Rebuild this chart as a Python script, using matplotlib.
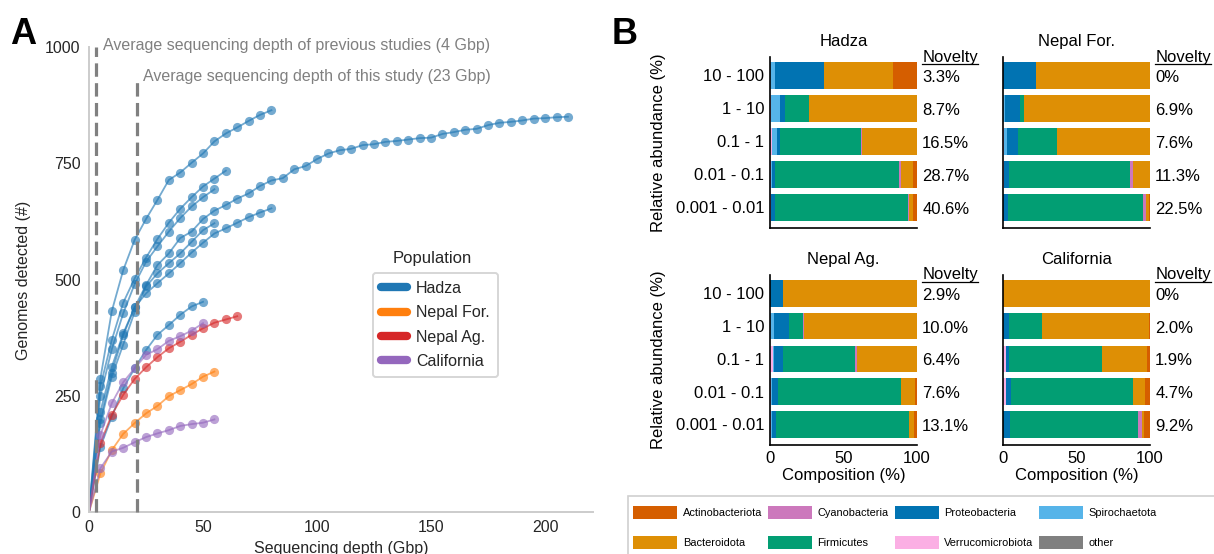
import matplotlib
matplotlib.use('Agg')
import matplotlib.pyplot as plt
from matplotlib.patches import Rectangle, Patch
from matplotlib.lines import Line2D

plt.rcParams['font.family'] = ['Liberation Sans', 'DejaVu Sans']

# ---------------- data: panel A (rarefaction curves) ----------------
DEPTH = [0, 5, 10, 15, 20, 25, 30, 35, 40, 45, 50, 55, 60, 65, 70, 75, 80, 85, 90,
         95, 100, 105, 110, 115, 120, 125, 130, 135, 140, 145, 150, 155, 160, 165,
         170, 175, 180, 185, 190, 195, 200, 205, 210]

hadza_1 = [0, 287, 432, 520, 585, 630, 671, 714, 730, 751, 771, 797, 814, 827, 841, 854, 864]
hadza_2 = [0, 270, 370, 450, 502, 547, 587, 622, 652, 677, 700, 717, 734]
hadza_3 = [0, 250, 350, 427, 490, 538, 571, 603, 632, 657, 677, 694]
hadza_4 = [0, 216, 312, 384, 440, 488, 531, 556, 589, 603, 630, 648, 660, 674, 685, 701,
           713, 718, 737, 744, 759, 771, 778, 781, 789, 791, 796, 798, 801, 804, 805,
           813, 817, 822, 824, 832, 837, 839, 842, 846, 847, 849, 850]
hadza_5 = [0, 191, 291, 360, 430, 485, 513, 535, 556, 581, 606, 621]
hadza_6 = [0, 200, 300, 380, 440, 470, 492, 513, 535, 558, 579, 599, 610, 622, 634, 644, 653]
hadza_7 = [0, 140, 205, 266, 309, 348, 381, 402, 424, 442, 452]
nepal_for_1 = [0, 83, 133, 168, 191, 212, 228, 249, 262, 275, 291, 302]
nepal_ag_1 = [0, 148, 209, 252, 286, 311, 333, 352, 366, 381, 395, 407, 414, 421]
california_1 = [0, 166, 234, 279, 309, 338, 350, 368, 378, 390, 406]
california_2 = [0, 94, 130, 138, 150, 161, 169, 176, 185, 189, 192, 199]

populations = ['Hadza', 'Nepal For.', 'Nepal Ag.', 'California']
pop_colors = ['#1f77b4', '#ff7f0e', '#d62728', '#9467bd']
pop_curves = [
    [hadza_1, hadza_2, hadza_3, hadza_4, hadza_5, hadza_6, hadza_7],
    [nepal_for_1],
    [nepal_ag_1],
    [california_1, california_2],
]
prev_depth = 3      # drawn position of "previous studies" line
this_depth = 21     # drawn position of "this study" line

# ---------------- data: panel B (composition) ----------------
bins = ['10 - 100', '1 - 10', '0.1 - 1', '0.01 - 0.1', '0.001 - 0.01']
phyla = ['other', 'Verrucomicrobiota', 'Spirochaetota', 'Proteobacteria',
         'Firmicutes', 'Cyanobacteria', 'Bacteroidota', 'Actinobacteriota']
phylum_colors = {'Actinobacteriota': '#d55e00', 'Bacteroidota': '#de8f05',
                 'Cyanobacteria': '#cc78bc', 'Firmicutes': '#029e73',
                 'Proteobacteria': '#0173b2', 'Verrucomicrobiota': '#fbafe4',
                 'Spirochaetota': '#56b4e9', 'other': '#808080'}
legend_order = ['Actinobacteriota', 'Bacteroidota', 'Cyanobacteria', 'Firmicutes',
                'Proteobacteria', 'Verrucomicrobiota', 'Spirochaetota', 'other']

hadza_comp = [
    [0, 0.0, 3.5, 33.5, 0.0, 0.0, 46.5, 16.5],
    [0, 1.0, 5.7, 3.6, 16.1, 0.4, 73.2, 0.0],
    [0, 1.5, 3.0, 2.5, 54.6, 1.0, 37.4, 0.0],
    [0, 1.0, 0.3, 2.3, 84.4, 1.1, 8.4, 2.5],
    [0, 0.7, 0.3, 2.7, 90.0, 1.1, 2.3, 2.9],
]
nepal_for_comp = [
    [0, 0.0, 0.0, 22.7, 0.0, 0.0, 77.3, 0.0],
    [0, 0.0, 1.1, 10.5, 2.5, 0.0, 85.9, 0.0],
    [0, 0.8, 2.0, 7.2, 27.0, 0.0, 63.0, 0.0],
    [0, 0.5, 0.5, 3.4, 81.9, 2.3, 11.4, 0.0],
    [0, 0.0, 0.0, 3.5, 91.5, 2.0, 2.0, 1.0],
]
nepal_ag_comp = [
    [0, 0.0, 0.0, 9.0, 0.0, 0.0, 91.0, 0.0],
    [0, 0.0, 2.5, 10.7, 9.1, 0.9, 76.8, 0.0],
    [0, 2.0, 0.5, 6.4, 49.2, 1.1, 40.8, 0.0],
    [0, 1.0, 0.5, 4.0, 83.3, 0.3, 9.5, 1.4],
    [0, 0.5, 1.0, 2.7, 90.2, 0.4, 3.2, 2.0],
]
california_comp = [
    [0, 0.0, 0.0, 0.0, 0.0, 0.0, 100.0, 0.0],
    [0, 0.0, 0.0, 4.0, 22.3, 0.0, 73.0, 0.7],
    [0, 1.8, 0.0, 2.3, 63.3, 0.0, 30.8, 1.8],
    [0, 1.8, 0.0, 3.4, 83.4, 0.0, 8.0, 3.4],
    [0, 0.0, 0.0, 5.0, 87.0, 2.5, 1.5, 4.0],
]
hadza_nov = [3.3, 8.7, 16.5, 28.7, 40.6]
nepal_for_nov = [0, 6.9, 7.6, 11.3, 22.5]
nepal_ag_nov = [2.9, 10.0, 6.4, 7.6, 13.1]
california_nov = [0, 2.0, 1.9, 4.7, 9.2]

# ---------------- figure ----------------
W, H = 1214, 554
fig = plt.figure(figsize=(W / 100, H / 100), dpi=100)


def rect(l, t, r, b):
    return [l / W, 1 - b / H, (r - l) / W, (b - t) / H]


def fpt(x, y):
    return (x / W, 1 - y / H)


# ---------- Panel A ----------
axA = fig.add_axes(rect(89, 47, 593, 512))
for name, col, curves in zip(populations, pop_colors, pop_curves):
    for g in curves:
        axA.plot(DEPTH[:len(g)], g, color=col, lw=1.3, alpha=0.62,
                 marker='o', ms=6.6, mec='none', markevery=list(range(1, len(g))))
axA.set_xlim(0, 221)
axA.set_ylim(0, 1000)
axA.set_xticks([0, 50, 100, 150, 200])
axA.set_yticks([0, 250, 500, 750, 1000])
axA.tick_params(length=0, labelsize=11.5, colors='#262626', pad=6)
for s in ['top', 'right']:
    axA.spines[s].set_visible(False)
for s in ['left', 'bottom']:
    axA.spines[s].set_color('#cccccc')
    axA.spines[s].set_linewidth(1.4)

axA.plot([prev_depth, prev_depth], [0, 1000], color='#808080', lw=2.3,
         dashes=(4.2, 2.0), clip_on=False, zorder=5)
axA.plot([this_depth, this_depth], [0, 933], color='#808080', lw=2.3,
         dashes=(4.2, 2.0), clip_on=False, zorder=5)
axA.text(6, 1003, 'Average sequencing depth of previous studies (4 Gbp)',
         color='#808080', fontsize=11.5, va='center', ha='left')
axA.text(23.7, 937, 'Average sequencing depth of this study (23 Gbp)',
         color='#808080', fontsize=11.5, va='center', ha='left')

fig.text(*fpt(24, 280), 'Genomes detected (#)', rotation=90, ha='center',
         va='center', fontsize=11.5, color='#262626')
fig.text(*fpt(341, 541), 'Sequencing depth (Gbp)', ha='center', va='top',
         fontsize=11.5, color='#262626')

handles = [Line2D([0], [0], color=c, lw=6, solid_capstyle='round') for c in pop_colors]
legA = fig.legend(handles, populations, loc='upper left',
                  bbox_to_anchor=fpt(373, 273), fontsize=11.5, frameon=True,
                  handlelength=1.6, handletextpad=0.6, labelspacing=0.58,
                  borderpad=0.5, borderaxespad=0, edgecolor='#cccccc', fancybox=True)
legA.get_frame().set_linewidth(1.4)
for t in legA.get_texts():
    t.set_color('#262626')
fig.text(*fpt(432, 259), 'Population', ha='center', va='center', fontsize=12,
         color='#262626')

fig.text(*fpt(10, 35), 'A', fontsize=26, fontweight='bold', ha='left', va='center')
fig.text(*fpt(612, 35), 'B', fontsize=26, fontweight='bold', ha='left', va='center')

# ---------- Panel B ----------
panelsB = [
    ('Hadza', hadza_comp, hadza_nov, (770, 57, 917, 228), True, False),
    ('Nepal For.', nepal_for_comp, nepal_for_nov, (1003, 57, 1150, 228), False, False),
    ('Nepal Ag.', nepal_ag_comp, nepal_ag_nov, (770, 275, 917, 445), True, True),
    ('California', california_comp, california_nov, (1003, 275, 1150, 445), False, True),
]
nov_texts = []
for title, comp, nov, box, show_y, show_x in panelsB:
    ax = fig.add_axes(rect(*box))
    ypos = list(range(len(bins)))
    left = [0.0] * len(bins)
    for j, ph in enumerate(phyla):
        vals = [row[j] for row in comp]
        ax.barh(ypos, vals, left=left, height=0.81, color=phylum_colors[ph], lw=0)
        left = [a + b for a, b in zip(left, vals)]
    ax.set_xlim(0, 100)
    ax.set_ylim(4.63, -0.56)
    ax.set_yticks(ypos)
    ax.set_xticks([0, 50, 100])
    ax.tick_params(length=0, labelsize=12, pad=4)
    ax.set_yticklabels(bins if show_y else [])
    if not show_x:
        ax.set_xticklabels([])
    else:
        ax.set_xlabel('Composition (%)', fontsize=12, labelpad=2)
    for s in ['top', 'right']:
        ax.spines[s].set_visible(False)
    for s in ['left', 'bottom']:
        ax.spines[s].set_linewidth(1.2)
        ax.spines[s].set_color('black')
    ax.set_title(title, fontsize=12, pad=8)
    hdr = ax.text(103.5, -0.56, 'Novelty', fontsize=12, ha='left', va='center',
                  clip_on=False)
    nov_texts.append(hdr)
    for i, v in enumerate(nov):
        lab = f'{v:.1f}%' if v else '0%'
        ax.text(103.5, i + 0.06, lab, fontsize=12, ha='left', va='center', clip_on=False)
    if show_y:
        ax.set_ylabel('Relative abundance (%)', fontsize=12)
        ax.yaxis.set_label_coords((666 - box[0]) / (box[2] - box[0]), 0.5)

# legend for phyla
leg_handles = [Patch(facecolor=phylum_colors[p], edgecolor='none') for p in legend_order]
legB = fig.legend(leg_handles, legend_order, loc='upper left', ncol=4,
                  bbox_to_anchor=fpt(630, 503), fontsize=7.9, frameon=False,
                  handlelength=4.0, handleheight=1.45, handletextpad=0.5,
                  columnspacing=0.55, labelspacing=1.55, borderpad=0.3, borderaxespad=0)
fig.add_artist(Rectangle(fpt(628, 600), (1230 - 628) / W, 104 / H,
                         transform=fig.transFigure, fill=False,
                         edgecolor='#d0d0d0', lw=1.2, clip_on=False))

# underline "Novelty"
fig.canvas.draw()
r = fig.canvas.get_renderer()
for t in nov_texts:
    bb = t.get_window_extent(renderer=r)
    y = bb.y0 + 1
    fig.add_artist(Line2D([bb.x0 / W, bb.x1 / W], [y / H, y / H],
                          transform=fig.transFigure, color='black', lw=0.9))

fig.savefig('out.png', dpi=100)
